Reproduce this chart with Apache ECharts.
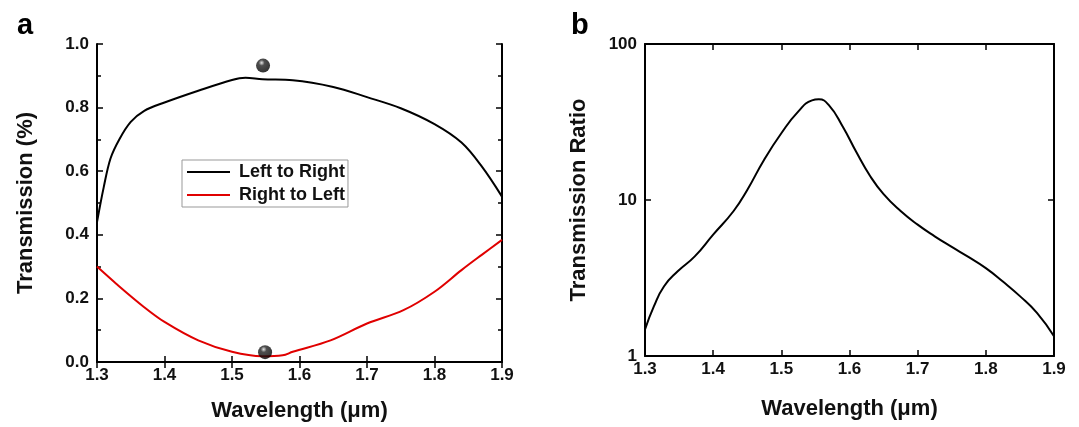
<!DOCTYPE html>
<html>
<head>
<meta charset="utf-8">
<script src="https://cdn.jsdelivr.net/npm/echarts@6/dist/echarts.min.js"></script>
<style>
  html,body{margin:0;padding:0;background:#fff;}
  #chart{width:1079px;height:427px;}
</style>
</head>
<body>
<div id="chart"></div>
<script>
// panel a : transmission vs wavelength
var wlLeftRight = [1.30,1.31,1.32,1.333,1.35,1.37,1.40,1.45,1.50,1.52,1.545,1.59,1.65,1.70,1.75,1.80,1.84,1.87,1.90];
var tLeftRight  = [0.44,0.55,0.64,0.70,0.755,0.79,0.816,0.853,0.887,0.894,0.889,0.886,0.865,0.833,0.798,0.748,0.69,0.615,0.52];
var wlRightLeft = [1.30,1.328,1.369,1.40,1.45,1.50,1.545,1.575,1.59,1.646,1.70,1.754,1.80,1.84,1.87,1.90];
var tRightLeft  = [0.30,0.247,0.174,0.126,0.068,0.032,0.018,0.021,0.032,0.068,0.121,0.163,0.221,0.289,0.337,0.384];
var markerWl = [1.546,1.549];
var markerT  = [0.932,0.031];

// panel b : transmission ratio (log)
var wlRatio = [1.30,1.313,1.328,1.348,1.373,1.40,1.43,1.45,1.475,1.50,1.525,1.545,1.555,1.57,1.59,1.61,1.63,1.65,1.675,1.70,1.725,1.75,1.775,1.80,1.825,1.85,1.875,1.90];
var ratio   = [1.48,2.08,2.80,3.49,4.35,6.0,8.5,11.6,18.2,26.8,37.0,43.5,44.2,40.4,29.6,20.3,14.3,10.9,8.5,6.95,5.85,5.0,4.3,3.66,3.0,2.42,1.89,1.34];

var legendNames = ['Left to Right','Right to Left'];
var xTitle = 'Wavelength (\u03bcm)';

var FONT = "'Liberation Sans', Arial, sans-serif";
function zip(a,b){ return a.map(function(v,i){ return [v,b[i]]; }); }

var axLine = {show:true, lineStyle:{color:'#000', width:2}};
function tick(len){ return {show:true, inside:true, length:len, lineStyle:{color:'#000', width:1.5}}; }
var lbl = {color:'#111', fontSize:17, fontWeight:'bold', fontFamily:FONT};
var nameStyle = {color:'#111', fontSize:22, fontWeight:'bold', fontFamily:FONT};

function xAx(grid, pos, labels, gap){
  return {
    type:'value', gridIndex:grid, position:pos, min:1.3, max:1.9, interval:0.1,
    axisLine:axLine, axisTick:tick(6), splitLine:{show:false},
    axisLabel: labels ? Object.assign({margin:5, formatter:function(v){return v.toFixed(1);}}, lbl) : {show:false},
    name: labels ? xTitle : '', nameLocation:'middle', nameGap:gap || 40, nameTextStyle:nameStyle
  };
}

var myChart = echarts.init(document.getElementById('chart'));
var option = {
  animation:false,
  backgroundColor:'#fff',
  title:[
    {text:'a', left:12, top:6, textStyle:{fontSize:29, fontWeight:'bold', fontFamily:FONT, color:'#000'}},
    {text:'b', left:566, top:6, textStyle:{fontSize:29, fontWeight:'bold', fontFamily:FONT, color:'#000'}}
  ],
  grid:[
    {left:97, top:44, width:405, height:318},
    {left:645, top:44, width:409, height:312}
  ],
  legend:{
    data:legendNames, orient:'vertical', left:182, top:160,
    icon:'rect', itemWidth:43, itemHeight:2, itemGap:5,
    borderColor:'#999', borderWidth:1, padding:[3,3,3,5],
    textStyle:{fontSize:18, fontWeight:'bold', fontFamily:FONT, color:'#111', padding:[0,0,0,4]}
  },
  xAxis:[ xAx(0,'bottom',true,38), xAx(0,'top',false), xAx(1,'bottom',true,42), xAx(1,'top',false) ],
  yAxis:[
    {type:'value', gridIndex:0, position:'left', min:0, max:1, interval:0.2,
     axisLine:axLine, axisTick:tick(6), minorTick:{show:true, splitNumber:2, length:4, lineStyle:{color:'#000', width:1.5}},
     splitLine:{show:false}, minorSplitLine:{show:false},
     axisLabel:Object.assign({margin:8, formatter:function(v){return v.toFixed(1);}}, lbl),
     name:'Transmission (%)', nameLocation:'middle', nameGap:60, nameTextStyle:nameStyle},
    {type:'value', gridIndex:0, position:'right', min:0, max:1, interval:0.2,
     axisLine:axLine, axisTick:tick(6), minorTick:{show:true, splitNumber:2, length:4, lineStyle:{color:'#000', width:1.5}},
     splitLine:{show:false}, minorSplitLine:{show:false}, axisLabel:{show:false}},
    {type:'log', gridIndex:1, position:'left', min:1, max:100, logBase:10,
     axisLine:axLine, axisTick:tick(6), splitLine:{show:false},
     axisLabel:Object.assign({margin:8}, lbl),
     name:'Transmission Ratio', nameLocation:'middle', nameGap:55, nameTextStyle:nameStyle},
    {type:'log', gridIndex:1, position:'right', min:1, max:100, logBase:10,
     axisLine:axLine, axisTick:tick(6), splitLine:{show:false}, axisLabel:{show:false}}
  ],
  series:[
    {name:legendNames[0], type:'line', xAxisIndex:0, yAxisIndex:0, symbol:'none', smooth:0.35,
     lineStyle:{color:'#000', width:2}, itemStyle:{color:'#000'}, data:zip(wlLeftRight,tLeftRight)},
    {name:legendNames[1], type:'line', xAxisIndex:0, yAxisIndex:0, symbol:'none', smooth:0.35,
     lineStyle:{color:'#e00000', width:2}, itemStyle:{color:'#e00000'}, data:zip(wlRightLeft,tRightLeft)},
    {type:'scatter', xAxisIndex:0, yAxisIndex:0, symbolSize:14, z:5,
     itemStyle:{color:new echarts.graphic.RadialGradient(0.4,0.3,0.7,[
       {offset:0,color:'#e0e0e0'},{offset:0.3,color:'#222'},{offset:1,color:'#000'}])},
     data:zip(markerWl,markerT)},
    {type:'line', xAxisIndex:2, yAxisIndex:2, symbol:'none', smooth:0.5,
     lineStyle:{color:'#000', width:2}, data:zip(wlRatio,ratio)}
  ]
};
myChart.setOption(option);
</script>
</body>
</html>
